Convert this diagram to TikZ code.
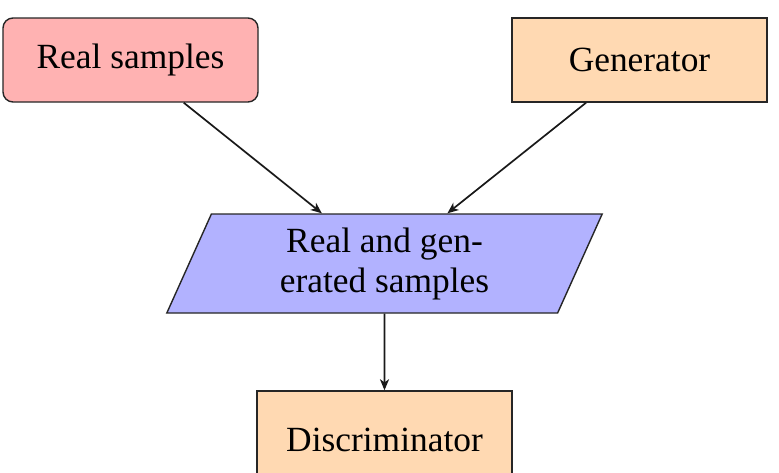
\documentclass[tikz,border=0pt]{standalone}
\usepackage{fontspec}
\setmainfont{Liberation Serif}
\usetikzlibrary{shapes.geometric,arrows.meta}
\begin{document}
\begin{tikzpicture}[x=1pt,y=-1pt,
  every node/.style={font=\fontsize{35.4pt}{40pt}\selectfont, line width=1.4pt, draw=black!85, inner sep=0pt},
  boxbase/.style={rectangle, minimum width=255pt, minimum height=84pt},
  realbox/.style={boxbase, rounded corners=10pt, fill=red!30},
  orangebox/.style={boxbase, fill=orange!30},
  parabox/.style={trapezium, trapezium left angle=69.5, trapezium right angle=110.5,
     trapezium stretches=true, minimum width=437pt, minimum height=99pt, fill=blue!30, align=center},
  conn/.style={-{Stealth[length=11pt,width=9pt,inset=3pt]}, line width=1.7pt, draw=black!90}
]
\useasboundingbox (0,0) rectangle (779,472);
\node[realbox] (real) at (130.5,60) {Real samples};
\node[orangebox] (gen) at (639.5,60) {Generator};
\node[parabox] (para) at (384.5,263.5) {\raisebox{-3pt}{Real and gen-}\\\raisebox{-3pt}{erated samples}};
\node[orangebox, minimum height=98pt] (disc) at (384.5,440) {Discriminator};
\draw[conn] (real) -- (para);
\draw[conn] (gen) -- (para);
\draw[conn] (para) -- (disc);
\end{tikzpicture}
\end{document}
